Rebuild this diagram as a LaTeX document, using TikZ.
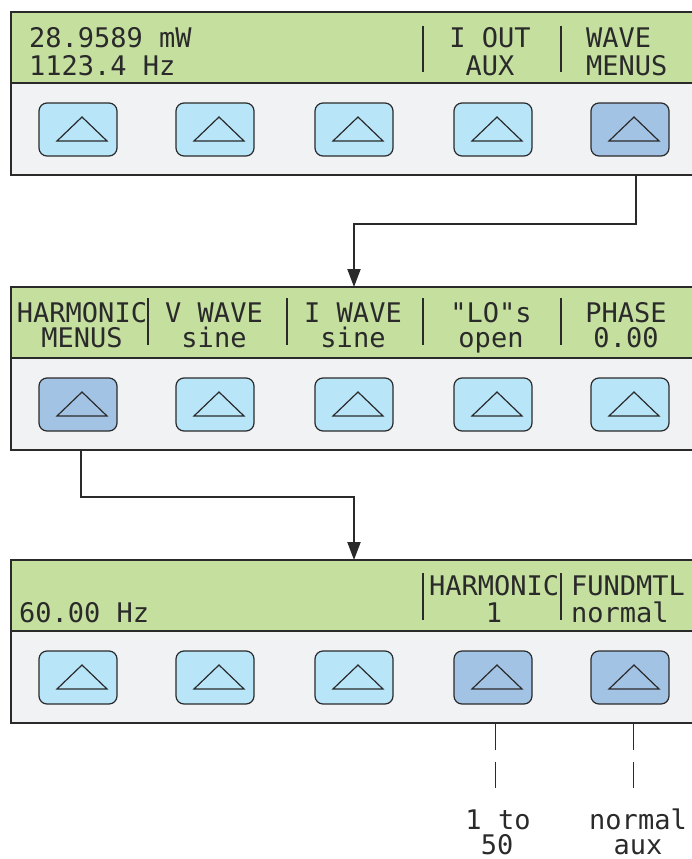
\documentclass[tikz,border=0pt]{standalone}
\usepackage{fontspec}
\newfontfamily\lcdfont{DejaVu Sans Mono}
\usetikzlibrary{arrows.meta}
\definecolor{lcdgreen}{HTML}{C5DF9F}
\definecolor{panelgray}{HTML}{F1F2F4}
\definecolor{keylight}{HTML}{B9E5F9}
\definecolor{keydark}{HTML}{A3C3E5}
\definecolor{ink}{HTML}{2A2A2A}
\begin{document}
\begin{tikzpicture}[x=1pt,y=-1pt,
 lcd/.style={draw=ink, line width=1.5pt, fill=lcdgreen, anchor=north west, minimum width=700pt, minimum height=71pt, inner sep=0pt, outer sep=0pt},
 keypad/.style={draw=ink, line width=1.5pt, fill=panelgray, anchor=north west, minimum width=700pt, minimum height=92pt, inner sep=0pt, outer sep=0pt},
 key/.style={draw=ink, line width=1.2pt, fill=keylight, rounded corners=8pt, minimum width=78pt, minimum height=53pt, inner sep=0pt, outer sep=0pt},
 keysel/.style={key, fill=keydark},
 tri/.style={draw=ink, line width=1.2pt},
 txt/.style={font=\lcdfont\fontsize{27pt}{27pt}\selectfont, text=ink, inner sep=0pt, outer sep=0pt},
 rng/.style={txt, anchor=base, text depth=0pt},
 bar/.style={draw=ink, line width=2.2pt},
 conn/.style={draw=ink, line width=2.2pt, -{Triangle[length=18pt,width=13pt]}},
 tick/.style={draw=ink, line width=1pt, dash pattern=on 27pt off 12pt},
]
\useasboundingbox (0,0) rectangle (691,859);

% ---------- panel 1 ----------
\node[lcd] (d1) at (11,12) {};
\node[keypad] (k1) at (11,83) {};
\node[key] (a1) at (78,129.5) {};
\node[key] (a2) at (215,129.5) {};
\node[key] (a3) at (354,129.5) {};
\node[key] (a4) at (493,129.5) {};
\node[keysel] (a5) at (630,129.5) {};
\node[txt, anchor=base west] (t11) at (29,48) {28.9589 mW};
\node[txt, anchor=base west] (t12) at (29,75) {1123.4 Hz};
\node[txt, anchor=base] (t13) at (490,48) {I OUT};
\node[txt, anchor=base] (t14) at (490,75) {AUX};
\node[txt, anchor=base west] (t15) at (586,48) {WAVE};
\node[txt, anchor=base west] (t16) at (586,75) {MENUS};
\draw[bar] (423,26) -- (423,72);
\draw[bar] (561,26) -- (561,72);

% ---------- panel 2 ----------
\node[lcd] (d2) at (11,287) {};
\node[keypad] (k2) at (11,358) {};
\node[keysel] (b1) at (78,404.5) {};
\node[key] (b2) at (215,404.5) {};
\node[key] (b3) at (354,404.5) {};
\node[key] (b4) at (493,404.5) {};
\node[key] (b5) at (630,404.5) {};
\node[txt, anchor=base] (t21) at (82,322) {HARMONIC};
\node[txt, anchor=base] (t22) at (82,347) {MENUS};
\node[txt, anchor=base] (t23) at (214,322) {V WAVE};
\node[txt, anchor=base] (t24) at (214,347) {sine};
\node[txt, anchor=base] (t25) at (353,322) {I WAVE};
\node[txt, anchor=base] (t26) at (353,347) {sine};
\node[txt, anchor=base] (t27) at (491,322) {"LO"s};
\node[txt, anchor=base] (t28) at (491,347) {open};
\node[txt, anchor=base] (t29) at (626,322) {PHASE};
\node[txt, anchor=base] (t2a) at (626,347) {0.00};
\draw[bar] (148,298) -- (148,345);
\draw[bar] (287,298) -- (287,345);
\draw[bar] (423,298) -- (423,345);
\draw[bar] (561,298) -- (561,345);

% ---------- panel 3 ----------
\node[lcd] (d3) at (11,560) {};
\node[keypad] (k3) at (11,631) {};
\node[key] (c1) at (78,677.5) {};
\node[key] (c2) at (215,677.5) {};
\node[key] (c3) at (354,677.5) {};
\node[keysel] (c4) at (493,677.5) {};
\node[keysel] (c5) at (630,677.5) {};
\node[txt, anchor=base west] (t31) at (19,622) {60.00 Hz};
\node[txt, anchor=base west] (t32) at (429,595) {HARMONIC};
\node[txt, anchor=base] (t33) at (494,622) {1};
\node[txt, anchor=base west] (t34) at (571,595) {FUNDMTL};
\node[txt, anchor=base west] (t35) at (571,622) {normal};
\draw[bar] (423,573) -- (423,620);
\draw[bar] (561,573) -- (561,620);

% triangles on keys
\foreach \n in {a1,a2,a3,a4,a5,b1,b2,b3,b4,b5,c1,c2,c3,c4,c5}
  \draw[tri] ([shift={(4,-12.5)}]\n.center) -- ++(25,24) -- ++(-50,0) -- cycle;

% ---------- connectors ----------
\coordinate (s1) at (636,0);
\coordinate (j1) at (354,224);
\draw[conn] (s1 |- k1.south) |- (j1) -- (j1 |- d2.north);
\coordinate (s2) at (81,0);
\coordinate (j2) at (354,497);
\draw[conn] (s2 |- k2.south) |- (j2) -- (j2 |- d3.north);

% ---------- value ranges ----------
\node[rng] (r1) at (498,829) {1 to};
\node[rng] (r2) at (497,854) {50};
\node[rng] (r3) at (638,829) {normal};
\node[rng] (r4) at (638,854) {aux};
\coordinate (u1) at (495,0);
\coordinate (u2) at (633,0);
\draw[tick] (u1 |- k3.south) -- ++(0,65);
\draw[tick] (u2 |- k3.south) -- ++(0,65);
\end{tikzpicture}
\end{document}
